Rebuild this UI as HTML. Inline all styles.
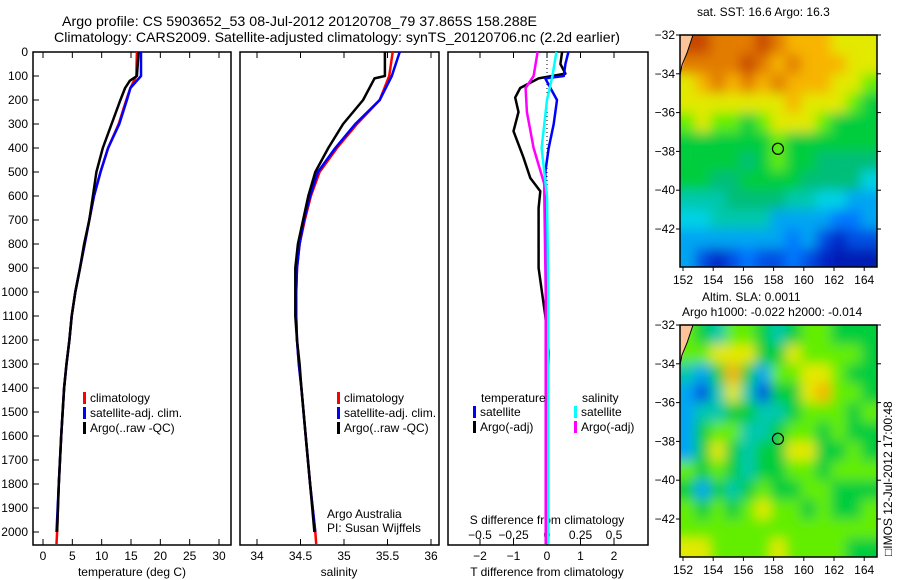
<!DOCTYPE html>
<html><head><meta charset="utf-8"><style>
body{margin:0;background:#fff;}
svg{display:block;font-family:"Liberation Sans",sans-serif;}
text{font-size:12px;fill:#000;}
</style></head><body>
<svg id="fig" width="900" height="580" viewBox="0 0 900 580" xmlns="http://www.w3.org/2000/svg">
<text x="62" y="26" style="font-size:14px" textLength="475" lengthAdjust="spacingAndGlyphs">Argo profile: CS 5903652_53 08-Jul-2012 20120708_79 37.865S 158.288E</text>
<text x="54" y="42" style="font-size:14px" textLength="566" lengthAdjust="spacingAndGlyphs">Climatology: CARS2009. Satellite-adjusted climatology: synTS_20120706.nc (2.2d earlier)</text>
<text x="697" y="16">sat. SST: 16.6  Argo: 16.3</text>
<text x="702" y="301">Altim. SLA: 0.0011</text>
<text x="682" y="316">Argo h1000: -0.022 h2000: -0.014</text>
<text transform="translate(892,556) rotate(-90)">□IMOS 12-Jul-2012 17:00:48</text>
<g id="g"></g>
</svg>
<script>
const depthTicks=[0,100,200,300,400,500,600,700,800,900,1000,1100,1200,1300,1400,1500,1600,1700,1800,1900,2000];
const tempTicks=[0,5,10,15,20,25,30];
const salTicks=[34,34.5,35,35.5,36];
const tdiffTicks=[-2,-1,0,1,2];
const sdiffTicks=[-0.5,-0.25,0,0.25,0.5];
const lonTicks=[152,154,156,158,160,162,164];
const latTicks=[-32,-34,-36,-38,-40,-42];

const climDepth=[0,100,150,200,300,400,500,600,700,800,900,1000,1100,1200,1300,1400,1600,1800,2000,2050];
const climTemp=[16.0,15.9,14.9,14.2,12.9,11.1,9.8,8.7,7.9,7.1,6.3,5.5,4.9,4.5,4.0,3.6,3.1,2.7,2.4,2.3];
const satDepth=[0,100,150,200,300,400,500,600,700,800,900,1000,1100,1200,1300,1400,1600,1800,2000];
const satTemp=[16.7,16.7,14.9,14.3,13.0,11.1,9.8,8.7,7.9,7.1,6.3,5.5,4.9,4.5,4.0,3.6,3.1,2.7,2.3];
const argoDepth=[0,100,120,150,200,300,400,500,600,700,800,900,1000,1100,1200,1300,1400,1600,1800,2000];
const argoTemp=[16.3,16.0,14.8,14.0,13.2,11.7,10.2,9.1,8.5,7.9,7.0,6.3,5.5,4.9,4.5,4.0,3.6,3.1,2.7,2.4];

const climSalDepth=[0,100,200,300,400,500,600,700,800,900,1000,1100,1200,1300,1400,1600,1800,2000,2050];
const climSal=[35.56,35.52,35.41,35.15,34.92,34.72,34.62,34.55,34.49,34.46,34.45,34.45,34.46,34.48,34.51,34.56,34.61,34.67,34.68];
const satSalDepth=[0,100,200,300,400,500,600,700,800,900,1000,1100,1200,1300,1400,1600,1800,2000];
const satSal=[35.64,35.55,35.41,35.13,34.90,34.70,34.61,34.54,34.49,34.46,34.45,34.45,34.46,34.48,34.51,34.56,34.61,34.67];
const argoSalDepth=[0,100,110,200,300,400,500,600,700,800,900,1000,1100,1200,1300,1400,1600,1800,2000];
const argoSal=[35.47,35.47,35.35,35.22,34.99,34.82,34.67,34.59,34.53,34.47,34.44,34.44,34.44,34.46,34.49,34.51,34.56,34.61,34.66];

const dTDepth=[0,50,90,110,150,190,250,330,440,525,580,650,900,1100,1250,1500,2000,2050];
const dTArgo=[0.45,0.4,0.55,-0.25,-0.8,-0.95,-0.85,-1.0,-0.7,-0.5,-0.2,-0.25,-0.25,-0.05,0.05,0,0,0];
const dTSatDepth=[0,50,100,110,150,200,300,400,500,700,900,2050];
const dTSat=[0.64,0.55,0.5,-0.05,0.1,0.3,0.2,0.05,-0.05,-0.05,0,0];
const dSArgoDepth=[0,100,150,250,400,550,600,1000,2050];
const dSArgo=[-0.07,-0.1,-0.16,-0.15,-0.1,-0.02,-0.02,-0.01,-0.01];
const dSSatDepth=[0,100,200,300,400,500,600,1000,2050];
const dSSat=[0.07,0.04,0.0,-0.02,-0.04,-0.02,0,0.01,0.01];

const sstGrid=[
[10,10,9,9,9,10,9,8,8,8,7,7,7],
[9,9,9,9,10,9,8,9,8,8,8,7,7],
[7,8,9,8,9,8,9,8,8,8,7,7,6],
[7,7,7,7,7,7,7,8,7,7,7,6,5],
[6,7,6,6,5,6,7,7,7,6,5,5,5],
[5,5,5,5,5,5,6,5,5,5,5,5,5],
[5,5,5,5,4.5,5,6,5,5,4.5,4.5,4.5,4.5],
[5,5,4.5,4.5,5,5,5,5,4.5,4.5,4.5,4.5,3.5],
[4,4,4,4.5,4.5,4.5,4.5,4,4,3.5,3.5,3,3],
[3.5,3.5,4,4,4,4,3,3,3,3,2.5,2.5,3],
[3,3,3,3,3,3,3,2.5,3,2,1.5,2,2],
[3,2,1.5,2,2.5,2,2,2.5,2,1.5,1,1,1]];
const slaGrid=[
[6,5,4,6,6,5,4,5,6,6,5,5,5],
[6,6,7,7,7,5,5,7,6,6,6,6,5],
[4,3,5,8,5,3,6,6,7,7,6,5,5],
[3,2,4,7,4,2,5,5,7,8,6,6,5],
[3,4,4,5,5,4,4,5,6,6,6,5,6],
[3,5,6,6,4,4,5,6,6,5,6,5,5],
[3,5,7,5,4,5,5,7,7,5,5,6,5],
[6,5,6,5,4,5,5,6,6,5,6,6,6],
[5,3,5,4,5,6,5,5,6,6,5,5,5],
[6,5,6,5,6,7,6,6,5,6,5,5,6],
[6,6,6,6,6,6,6,6,6,6,6,6,6],
[7,7,6,6,6,6,7,6,6,6,6,5,5]];
const argoLon=158.288, argoLat=-37.865;

const NS="http://www.w3.org/2000/svg";
const G=document.getElementById('g');
function el(t,a,p){const e=document.createElementNS(NS,t);for(const k in a)e.setAttribute(k,a[k]);(p||G).appendChild(e);return e;}
const Y=d=>52+d*0.24;
const PT={x0:33,x1:231}, PS={x0:240,x1:439}, PD={x0:448,x1:648};
const XT=v=>43+v*5.867;
const XS=v=>257+(v-34)*87;
const XDT=v=>547+v*33.5;
const XDS=v=>547+v*134;

function box(p,name){const r=el('rect',{x:p.x0,y:52,width:p.x1-p.x0,height:493,fill:'none',stroke:'#000','stroke-width':1.5});

}
box(PT,'temperature-panel');box(PS,'salinity-panel');box(PD,'difference-panel');

depthTicks.forEach(d=>{
 el('line',{x1:PT.x0,x2:PT.x0+6,y1:Y(d),y2:Y(d),stroke:'#000'});
 const t=el('text',{x:28,y:Y(d)+4,'text-anchor':'end'});t.textContent=d;
 
 
});
function xticks(arr,f,name,yl){arr.forEach(v=>{
 el('line',{x1:f(v),x2:f(v),y1:545,y2:539,stroke:'#000'});
 el('line',{x1:f(v),x2:f(v),y1:52,y2:58,stroke:'#000'});
 const t=el('text',{x:f(v),y:yl,'text-anchor':'middle'});t.textContent=(v<0?'\u2212'+(-v):v);
 
 });}
xticks(tempTicks,XT,'temperature-tick-label',560);
xticks(salTicks,XS,'salinity-tick-label',560);
xticks(tdiffTicks,XDT,'tdiff-tick-label',560);
sdiffTicks.forEach(v=>{const t=el('text',{x:XDS(v),y:539,'text-anchor':'middle'});t.textContent=(v<0?'\u2212'+(-v):v);
 
 });
function lbl(x,y,s,name,anchor){const t=el('text',{x:x,y:y,'text-anchor':anchor||'middle'});t.textContent=s;
 
 }
lbl(132,576,'temperature (deg C)','temperature-axis-title');
lbl(339,576,'salinity','salinity-axis-title');
lbl(547,576,'T difference from climatology','tdiff-axis-title');
lbl(547,524,'S difference from climatology','sdiff-axis-title');
lbl(327,518,'Argo Australia','credit-line-1','start');
lbl(327,532,'PI: Susan Wijffels','credit-line-2','start');

function line(xs,ds,fx,col,name,w){const pts=xs.map((v,i)=>fx(v).toFixed(1)+','+Y(ds[i]).toFixed(1)).join(' ');
 const p=el('polyline',{points:pts,fill:'none',stroke:col,'stroke-width':w||2.5,'stroke-linejoin':'round'});
 
 }
line(climTemp,climDepth,XT,'#f00','climatology-temp-line');
line(satTemp,satDepth,XT,'#00f','satellite-temp-line');
line(argoTemp,argoDepth,XT,'#000','argo-temp-line');
line(climSal,climSalDepth,XS,'#f00','climatology-sal-line');
line(satSal,satSalDepth,XS,'#00f','satellite-sal-line');
line(argoSal,argoSalDepth,XS,'#000','argo-sal-line');
el('line',{x1:547,x2:547,y1:52,y2:Y(650),stroke:'#000','stroke-dasharray':'1,3'});
line(dTArgo,dTDepth,XDT,'#000','argo-tdiff-line');
line(dTSat,dTSatDepth,XDT,'#00f','satellite-tdiff-line');
line(dSArgo,dSArgoDepth,XDS,'#f0f','argo-sdiff-line');
line(dSSat,dSSatDepth,XDS,'#0ff','satellite-sdiff-line');

function legend(x,y,items){items.forEach((it,i)=>{
 el('rect',{x:x,y:y+i*15-10,width:3,height:12,fill:it[0]});
 const t=el('text',{x:x+7,y:y+i*15});t.textContent=it[1];
 
 });}
legend(83,402,[['#f00','climatology'],['#00f','satellite-adj. clim.'],['#000','Argo(..raw -QC)']]);
legend(337,402,[['#f00','climatology'],['#00f','satellite-adj. clim.'],['#000','Argo(..raw -QC)']]);
lbl(481,402,'temperature','legend-temperature-header','start');
lbl(582,402,'salinity','legend-salinity-header','start');
legend(473,416,[['#00f','satellite'],['#000','Argo(-adj)']]);
legend(574,416,[['#0ff','satellite'],['#f0f','Argo(-adj)']]);

const stops=[[0,[0,0,140]],[1.5,[0,40,200]],[2.5,[0,120,255]],[3.5,[0,210,230]],[4.5,[0,190,120]],[5.5,[0,220,0]],[6.5,[200,255,0]],[7.5,[255,210,0]],[8.5,[240,150,0]],[10,[200,70,0]]];
function cmap(v){for(let i=1;i<stops.length;i++){if(v<=stops[i][0]){const a=stops[i-1],b=stops[i],t=(v-a[0])/(b[0]-a[0]);
 const c=a[1].map((x,k)=>Math.round(x+(b[1][k]-x)*t));return 'rgb('+c+')';}}return 'rgb(200,70,0)';}

function map(y0,grid,name){
 const x0=680,x1=877,y1=y0+232;
 const LX=lon=>683+(lon-152)*15.1, LY=lat=>y0+(-32-lat)*19.4;
 const cid='clip'+y0, fid='blur'+y0;
 const defs=el('defs',{});
 const cp=el('clipPath',{id:cid},defs);el('rect',{x:x0,y:y0,width:x1-x0,height:y1-y0},cp);
 const f=el('filter',{id:fid,x:'-5%',y:'-5%',width:'110%',height:'110%'},defs);el('feGaussianBlur',{stdDeviation:6},f);
 const gc=el('g',{'clip-path':'url(#'+cid+')'});
 
 
 el('rect',{x:x0,y:y0,width:x1-x0,height:y1-y0,fill:cmap(5)},gc);
 const gb=el('g',{filter:'url(#'+fid+')'},gc);
 grid.forEach((row,r)=>row.forEach((v,c)=>{
  const cell=el('rect',{x:LX(151.8+c)-(c==0?10:0),y:LY(-32-r)-(r==0?10:0),width:15.2+(c==0?10:0)+(c==12?10:0),height:19.5+(r==0?10:0)+(r==11?10:0),fill:cmap(v)},gb);
  
  
 }));
 el('polygon',{points:`${x0},${y0} ${x0+13},${y0} ${x0+7},${y0+18} ${x0},${y0+40}`,fill:'#fdc49a',stroke:'none'},gc);
 el('polyline',{points:`${x0+13},${y0} ${x0+7},${y0+18} ${x0+2},${y0+30} ${x0},${y0+40}`,fill:'none',stroke:'#000'},gc);
 el('rect',{x:x0,y:y0,width:x1-x0,height:y1-y0,fill:'none',stroke:'#000','stroke-width':1.5});
 lonTicks.forEach(v=>{el('line',{x1:LX(v),x2:LX(v),y1:y1,y2:y1+4,stroke:'#000'});
  const t=el('text',{x:LX(v),y:y1+17,'text-anchor':'middle'});t.textContent=v;
  
  });
 latTicks.forEach(v=>{el('line',{x1:x0,x2:x0-4,y1:LY(v),y2:LY(v),stroke:'#000'});el('line',{x1:x1,x2:x1+4,y1:LY(v),y2:LY(v),stroke:'#000'});
  const t=el('text',{x:x0-5,y:LY(v)+4,'text-anchor':'end'});t.textContent='\u2212'+(-v);
  
  });
 const m=el('circle',{cx:LX(argoLon),cy:LY(argoLat),r:5.5,fill:'none',stroke:'#000','stroke-width':1.2});
 
 
}
map(35,sstGrid,'sst-map');
map(325,slaGrid,'sla-map');
</script>
</body></html>
